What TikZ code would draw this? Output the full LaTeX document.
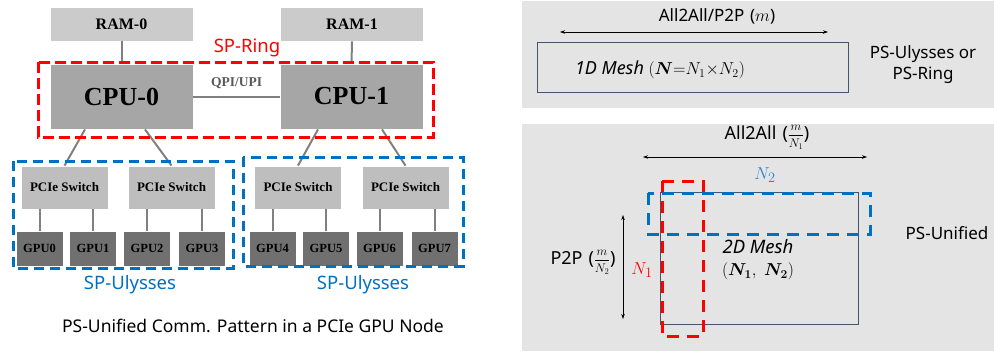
\documentclass[tikz,border=0pt]{standalone}
\usepackage{amsmath}
\usepackage{fontspec}
\setmainfont{Liberation Serif}
\newfontfamily\sansf{Noto Sans}
\usetikzlibrary{arrows.meta}
\definecolor{ramgray}{HTML}{CBCBCB}
\definecolor{cpugray}{HTML}{A6A6A6}
\definecolor{swgray}{HTML}{BEBEBE}
\definecolor{gpugray}{HTML}{707070}
\definecolor{linegray}{HTML}{808080}
\definecolor{panelgray}{HTML}{E4E4E4}
\definecolor{ulblue}{HTML}{0070C0}
\definecolor{meshblue}{HTML}{44546A}
\newcommand{\myfrac}[2]{\raisebox{1.3pt}{\scalebox{0.72}{$\dfrac{#1}{#2}$}}}
\tikzset{
  hwbox/.style={draw=white, line width=0.8pt, inner sep=0pt, font=\bfseries},
  rambox/.style={hwbox, fill=ramgray, minimum width=143pt, minimum height=34pt, font=\bfseries\fontsize{16}{18}\selectfont},
  cpubox/.style={hwbox, fill=cpugray, minimum width=143pt, minimum height=65pt, font=\bfseries\fontsize{26}{30}\selectfont},
  swbox/.style={hwbox, fill=swgray, minimum width=87pt, minimum height=43pt, font=\bfseries\fontsize{13}{15}\selectfont},
  gpubox/.style={hwbox, fill=gpugray, minimum width=47pt, minimum height=35pt, font=\bfseries\fontsize{12.5}{14}\selectfont},
  wire/.style={draw=linegray, line width=2pt},
  reddash/.style={draw=red, line width=3pt, dash pattern=on 11pt off 5pt},
  bluedash/.style={draw=ulblue, line width=3pt, dash pattern=on 10pt off 6pt},
  reddashb/.style={draw=red, line width=3pt, dash pattern=on 12pt off 8pt},
  bluedashb/.style={draw=ulblue, line width=3pt, dash pattern=on 12pt off 8pt},
  panel/.style={fill=panelgray, draw=none},
  meshrect/.style={draw=meshblue, line width=1pt},
  dimarrow/.style={draw=black, line width=0.6pt, {Stealth[length=5pt,width=3.5pt]}-{Stealth[length=5pt,width=3.5pt]}},
  sanslabel/.style={font=\sansf\fontsize{17}{20}\selectfont, inner sep=0pt},
  biglabel/.style={font=\sansf\fontsize{17}{21}\selectfont, inner sep=0pt, align=center},
  grouplabel/.style={font=\sansf\fontsize{18.5}{21}\selectfont, inner sep=0pt},
}
\begin{document}
\begin{tikzpicture}[x=1pt,y=-1pt]
\useasboundingbox (0,0) rectangle (994,351);
% ---------- left: hardware ----------
\node[rambox] (ram0) at (121.5,24) {RAM-0};
\node[rambox] (ram1) at (352,24) {RAM-1};
\node[cpubox] (cpu0) at (121.5,96.5) {CPU-0};
\node[cpubox] (cpu1) at (351.5,96.5) {CPU-1};
\node[swbox] (sw1) at (64.5,187.5) {PCIe Switch};
\node[swbox] (sw2) at (171.5,187.5) {PCIe Switch};
\node[swbox] (sw3) at (298,187.5) {PCIe Switch};
\node[swbox] (sw4) at (405.5,187.5) {PCIe Switch};
\node[gpubox] (g0) at (39.5,248.5) {GPU0};
\node[gpubox] (g1) at (93,248.5) {GPU1};
\node[gpubox] (g2) at (147,248.5) {GPU2};
\node[gpubox] (g3) at (202,248.5) {GPU3};
\node[gpubox] (g4) at (272.5,248.5) {GPU4};
\node[gpubox] (g5) at (326,248.5) {GPU5};
\node[gpubox] (g6) at (379.5,248.5) {GPU6};
\node[gpubox] (g7) at (434.5,248.5) {GPU7};
% wires
\draw[wire] (ram0.south) -- (cpu0.north);
\draw[wire] (ram1.south) -- (cpu1.north);
\draw[wire] (cpu0.east) -- node[above=7pt, font=\bfseries\fontsize{13.5}{15}\selectfont, text=black!65, inner sep=0pt] (qpi) {QPI/UPI} (cpu1.west);
\draw[wire] ([xshift=-36.5pt]cpu0.south) -- (sw1.north);
\draw[wire] ([xshift=23.5pt]cpu0.south) -- (sw2.north);
\draw[wire] ([xshift=-33.5pt]cpu1.south) -- (sw3.north);
\draw[wire] ([xshift=30.5pt]cpu1.south) -- (sw4.north);
\foreach \g/\s in {g0/sw1,g1/sw1,g2/sw2,g3/sw2,g4/sw3,g5/sw3,g6/sw4,g7/sw4}
  \draw[wire] (\g.north) -- (\g.north |- \s.south);
% groups
\draw[reddash] (38,62) rectangle (433,137);
\node[grouplabel, text=red] (spring) at (247,48) {SP-Ring};
\draw[bluedash] (13,161) rectangle (233,268);
\draw[bluedash] (243,157) rectangle (463,266);
\node[grouplabel, text=ulblue] (ul1) at (130,285) {SP-Ulysses};
\node[grouplabel, text=ulblue] (ul2) at (363,285) {SP-Ulysses};
\node[sanslabel, font=\sansf\fontsize{17.5}{20}\selectfont] (cap) at (253,326) {PS-Unified Comm. Pattern in a PCIe GPU Node};
% ---------- right top panel ----------
\fill[panel] (522,1) rectangle (994,108);
\coordinate (a1l) at (560,32);
\coordinate (a1r) at (828,32);
\draw[dimarrow] (a1l) -- (a1r);
\node[sanslabel] (a1lab) at (717,16) {All2All/P2P\,\,($m$)};
\draw[meshrect] (537,42) rectangle (848,92);
\node[sanslabel, font=\sansf\fontsize{18}{21}\selectfont] (m1) at (660,70) {\textit{1D Mesh} $(\boldsymbol{N}{=}N_1{\times}N_2)$};
\node[biglabel] (psu) at (923,65) {PS-Ulysses or\\PS-Ring};
% ---------- right bottom panel ----------
\fill[panel] (522,124) rectangle (994,351);
\coordinate (a2l) at (643,157);
\coordinate (a2r) at (867,157);
\draw[dimarrow] (a2l) -- (a2r);
\node[sanslabel, font=\sansf\fontsize{18}{21}\selectfont] (a2lab) at (767,137) {All2All\,\,(\myfrac{m}{N_1})};
\node[sanslabel, font=\sansf\fontsize{19}{21}\selectfont, text=ulblue!85] (n2) at (765,175) {$N_2$};
\draw[meshrect] (660,192) rectangle (858,324);
\draw[reddashb] (662,181) rectangle (703,336);
\draw[bluedashb] (648,193) rectangle (870,234);
\coordinate (a3t) at (623,215);
\coordinate (a3b) at (623,319);
\draw[dimarrow] (a3t) -- (a3b);
\node[sanslabel, font=\sansf\fontsize{18}{21}\selectfont] (p2p) at (583,262) {P2P\,\,(\myfrac{m}{N_2})};
\node[sanslabel, font=\sansf\fontsize{19}{21}\selectfont, text=red] (n1) at (642,270) {$N_1$};
\node[sanslabel, align=center, font=\sansf\fontsize{18.5}{21}\selectfont] (m2) at (758,260) {\textit{\textbf{2D Mesh}}\\[1pt]$(\boldsymbol{N_1},\ \boldsymbol{N_2})$};
\node[biglabel] (psuni) at (947,233) {PS-Unified};
\end{tikzpicture}
\end{document}
